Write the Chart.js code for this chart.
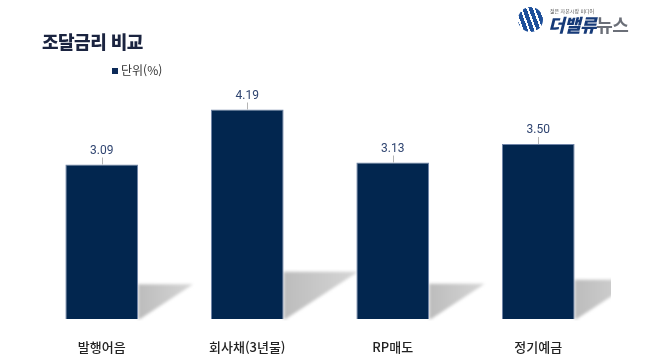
<!DOCTYPE html>
<html lang="ko">
<head>
<meta charset="utf-8">
<title>조달금리 비교</title>
<script src="https://cdn.jsdelivr.net/npm/chart.js@4/dist/chart.umd.min.js"></script>
<style>
  html, body { margin: 0; padding: 0; background: #fff; }
  body { width: 650px; height: 363px; position: relative; overflow: hidden; font-family: "Noto Sans CJK KR", "Noto Sans", sans-serif; }
  #wrap { position: absolute; left: 0; top: 0; width: 650px; height: 363px; }
  .title { position: absolute; left: 42px; top: 27px; font-size: 18px; font-weight: 900; color: #1b2440; letter-spacing: -0.5px; line-height: 28px; }
  .unit { position: absolute; left: 112px; top: 61px; font-size: 12px; color: #333; line-height: 18px; }
  .unit i { display: inline-block; width: 6px; height: 6px; background: #0c2a58; margin-right: 3px; vertical-align: 1px; }
  .logo { position: absolute; left: 517px; top: 6px; width: 130px; height: 30px; }
  .logo .icon { position: absolute; left: 1px; top: 1px; width: 25px; height: 25px; border-radius: 50%;
    background: repeating-linear-gradient(70deg, #1d4f9a 0 4px, #fff 4px 6px); }
  .logo .tag { position: absolute; left: 33px; top: 2px; font-size: 5px; color: #555; line-height: 6px; }
  .logo .name { position: absolute; left: 31px; top: 7px; font-size: 18px; font-weight: 900; line-height: 22px; font-style: italic; letter-spacing: -0.5px; }
  .logo .name b { color: #163a78; }
  .logo .name span { color: #6b6f78; font-style: normal; font-weight: 700; }
</style>
</head>
<body>
<div id="wrap"><canvas id="chart" width="650" height="363"></canvas></div>
<div class="title">조달금리 비교</div>
<div class="unit"><i></i>단위(%)</div>
<div class="logo">
  <div class="icon"></div>
  <div class="tag">젊은 자본시장 미디어</div>
  <div class="name"><b>더밸류</b><span>뉴스</span></div>
</div>
<script>
const categories = ["발행어음", "회사채(3년물)", "RP매도", "정기예금"];
const rates = [3.09, 4.19, 3.13, 3.50];
const seriesName = "단위(%)";

const barColor = "#02264f";

// cast shadow to the right of each bar base
const shadowPlugin = {
  id: "barShadow",
  beforeDatasetsDraw(chart) {
    const { ctx, chartArea } = chart;
    const meta = chart.getDatasetMeta(0);
    ctx.save();
    ctx.beginPath();
    ctx.rect(chartArea.left, chartArea.top, chartArea.right - chartArea.left, chartArea.bottom - chartArea.top + 2);
    ctx.clip();
    ctx.filter = "blur(1.5px)";
    meta.data.forEach((bar) => {
      const right = bar.x + bar.width / 2;
      const h = bar.base - bar.y;
      const sh = h * 0.225;
      const sw = h * 0.355;
      const g = ctx.createLinearGradient(right, 0, right + sw, 0);
      g.addColorStop(0, "#bcbcbc");
      g.addColorStop(1, "#d6d6d6");
      ctx.fillStyle = g;
      ctx.beginPath();
      ctx.moveTo(right, bar.base - sh);
      ctx.lineTo(right + sw, bar.base - sh);
      ctx.lineTo(right + 2, bar.base);
      ctx.lineTo(right, bar.base);
      ctx.closePath();
      ctx.fill();
    });
    ctx.restore();
  },
};

const valuePlugin = {
  id: "valueLabels",
  afterDatasetsDraw(chart) {
    const { ctx } = chart;
    const meta = chart.getDatasetMeta(0);
    ctx.save();
    meta.data.forEach((bar, i) => {
      ctx.strokeStyle = "#b5b5b5";
      ctx.lineWidth = 1;
      ctx.beginPath();
      ctx.moveTo(Math.round(bar.x) + 0.5, bar.y - 7);
      ctx.lineTo(Math.round(bar.x) + 0.5, bar.y);
      ctx.stroke();
      ctx.fillStyle = "#2f4470";
      ctx.font = "12px Roboto, 'Noto Sans', sans-serif";
      ctx.textAlign = "center";
      ctx.textBaseline = "middle";
      ctx.fillText(rates[i].toFixed(2), bar.x, bar.y - 14);
    });
    ctx.restore();
  },
};

new Chart(document.getElementById("chart"), {
  type: "bar",
  data: {
    labels: categories,
    datasets: [{
      label: seriesName,
      data: rates,
      backgroundColor: barColor,
      borderColor: "#6f84a8",
      borderWidth: 1,
      categoryPercentage: 1,
      barPercentage: 0.5,
    }],
  },
  options: {
    responsive: false,
    animation: false,
    events: [],
    layout: { padding: { left: 29, right: 39, top: 69, bottom: 8 } },
    plugins: { legend: { display: false }, tooltip: { enabled: false } },
    scales: {
      x: {
        grid: { display: false, drawTicks: false },
        border: { display: false },
        afterFit(scale) { scale.height = 36; },
        ticks: {
          padding: 20,
          color: "#222",
          font: { family: "'Noto Sans CJK KR', sans-serif", size: 13, weight: "500" },
        },
      },
      y: { display: false, min: 0, max: 5 },
    },
  },
  plugins: [shadowPlugin, valuePlugin],
});
</script>
</body>
</html>
